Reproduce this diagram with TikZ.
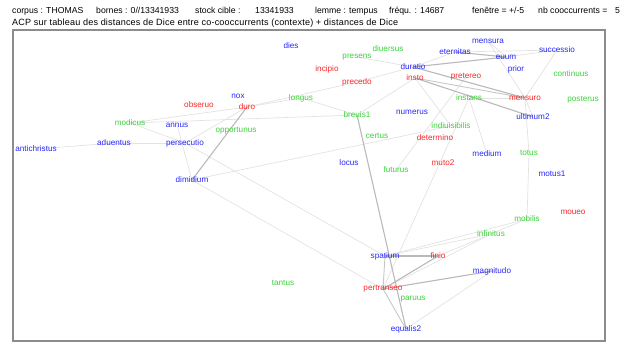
\documentclass[tikz,border=0pt]{standalone}
\usepackage{fontspec}
\setmainfont{Liberation Sans}
\usetikzlibrary{backgrounds}
\definecolor{wb}{RGB}{40,40,250}
\definecolor{wr}{RGB}{250,40,40}
\definecolor{wg}{RGB}{60,210,60}
\definecolor{edl}{RGB}{226,226,226}
\definecolor{edd}{RGB}{185,185,185}
\definecolor{frm}{RGB}{140,140,140}
\tikzset{
  w/.style={inner sep=0pt, font=\fontsize{8.2}{9}\selectfont},
  wB/.style={w, text=wb},
  wR/.style={w, text=wr},
  wG/.style={w, text=wg},
  lt/.style={draw=edl, line width=0.7bp},
  dk/.style={draw=edd, line width=1.1bp},
  md/.style={draw=edd!80!white, line width=0.9bp},
  hd/.style={inner sep=0pt, anchor=base west, font=\fontsize{8.7}{10}\selectfont}
}
\begin{document}
\begin{tikzpicture}[x=1bp,y=-1bp]
\useasboundingbox (0,0) rectangle (621,343);
\node[hd] (h1) at (12,13) {corpus : THOMAS};
\node[hd] (h2) at (96,13) {bornes : 0//13341933};
\node[hd] (h3) at (195,13) {stock cible :};
\node[hd] (h4) at (255,13) {13341933};
\node[hd] (h5) at (315,13) {lemme : tempus};
\node[hd] (h6) at (389,13) {fréqu. : 14687};
\node[hd] (h7) at (472,13) {fenêtre = +/-5};
\node[hd] (h8) at (538,13) {nb cooccurrents =};
\node[hd] (h9) at (615,13) {5};
\node[hd, font=\fontsize{9.1}{10}\selectfont\addfontfeature{LetterSpace=2}] (t2) at (12,25) {ACP sur tableau des distances de Dice entre co-cooccurrents (contexte) + distances de Dice};
\draw[frm, line width=1.1bp] (13,30) rectangle (605,341);
% nodes
\node[wB] (dies) at (291,46) {dies};
\node[wG] (diuersus) at (388,49) {diuersus};
\node[wG] (presens) at (357,57) {presens};
\node[wR] (incipio) at (327,69) {incipio};
\node[wB] (duratio) at (413,67) {duratio};
\node[wR] (insto) at (415,78) {insto};
\node[wR] (precedo) at (357,82) {precedo};
\node[wG] (longus) at (301,98) {longus};
\node[wG] (breuis1) at (357,115) {breuis1};
\node[wB] (numerus) at (412,112) {numerus};
\node[wB] (mensura) at (488,41) {mensura};
\node[wB] (eternitas) at (455,52) {eternitas};
\node[wB] (euum) at (506,57) {euum};
\node[wB] (successio) at (557,50) {successio};
\node[wB] (prior) at (516,69) {prior};
\node[wR] (pretereo) at (466,77) {pretereo};
\node[wG] (continuus) at (571,74) {continuus};
\node[wG] (instans) at (469,98) {instans};
\node[wR] (mensuro) at (525,98) {mensuro};
\node[wG] (posterus) at (583,100) {posterus};
\node[wB] (ultimum2) at (533,117) {ultimum2};
\node[wG] (indiuisibilis) at (451,126) {indiuisibilis};
\node[wG] (certus) at (377,136) {certus};
\node[wR] (determino) at (435,138) {determino};
\node[wB] (locus) at (349,163) {locus};
\node[wR] (muto2) at (443,163) {muto2};
\node[wG] (futurus) at (396,170) {futurus};
\node[wB] (medium) at (487,154) {medium};
\node[wG] (totus) at (529,153) {totus};
\node[wB] (motus1) at (552,174) {motus1};
\node[wR] (moueo) at (573,212) {moueo};
\node[wG] (mobilis) at (527,219) {mobilis};
\node[wG] (infinitus) at (491,234) {infinitus};
\node[wB] (spatium) at (385,256) {spatium};
\node[wR] (finio) at (438,256) {finio};
\node[wB] (magnitudo) at (492,271) {magnitudo};
\node[wG] (tantus) at (283,283) {tantus};
\node[wR] (pertranseo) at (383,289) {pertranseo};
\node[wG] (paruus) at (413,299) {paruus};
\node[wB] (equalis2) at (406,329) {equalis2};
\node[wB] (nox) at (238,96) {nox};
\node[wR] (obseruo) at (199,105) {obseruo};
\node[wR] (duro) at (247,107) {duro};
\node[wB] (annus) at (177,125) {annus};
\node[wG] (opportunus) at (236,131) {opportunus};
\node[wB] (persecutio) at (185,143) {persecutio};
\node[wB] (dimidium) at (192,180) {dimidium};
\node[wG] (modicus) at (130,123) {modicus};
\node[wB] (aduentus) at (114,143) {aduentus};
\node[wB] (antichristus) at (36,149) {antichristus};
% edges
\begin{scope}[on background layer]
\foreach \a/\b in {antichristus/aduentus, aduentus/persecutio, modicus/duro, modicus/breuis1,
  modicus/persecutio, annus/dimidium, persecutio/duro, persecutio/spatium, dimidium/pertranseo,
  dimidium/indiuisibilis, duro/longus, duro/precedo, longus/breuis1, precedo/duratio,
  presens/duratio, breuis1/insto, insto/indiuisibilis, pretereo/futurus, instans/pertranseo,
  instans/medium, instans/mensuro, duratio/eternitas, eternitas/successio, euum/successio,
  mensura/euum, mensura/mensuro, successio/mensuro, mensuro/totus, totus/mobilis,
  mensuro/ultimum2, spatium/infinitus, spatium/mobilis, finio/mobilis, pertranseo/infinitus,
  magnitudo/equalis2}
  \draw[lt] (\a.center) -- (\b.center);
\foreach \a/\b in {spatium/pertranseo, pertranseo/equalis2, insto/mensuro}
  \draw[md] (\a.center) -- (\b.center);
\foreach \a/\b in {duratio/euum, duratio/mensuro, insto/ultimum2, eternitas/euum, dimidium/duro,
  breuis1/equalis2, spatium/finio, finio/pertranseo, pertranseo/magnitudo}
  \draw[dk] (\a.center) -- (\b.center);
\end{scope}
\end{tikzpicture}
\end{document}
